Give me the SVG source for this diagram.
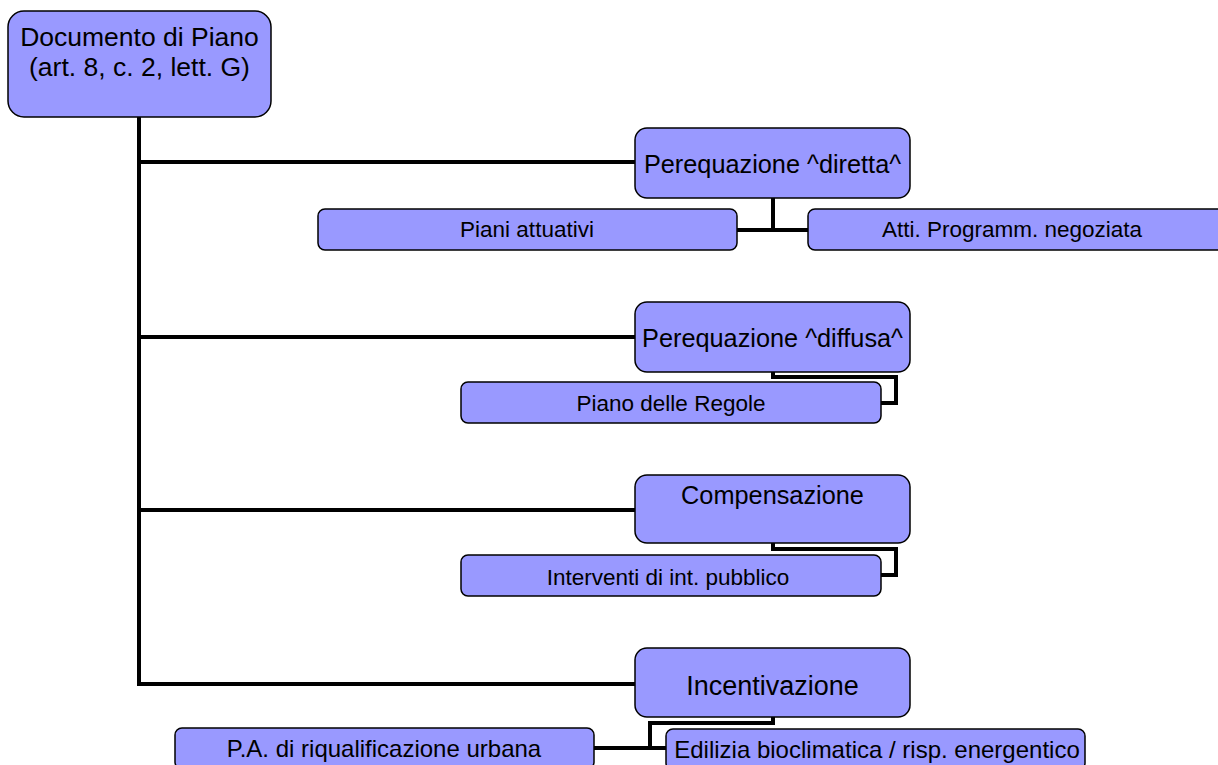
<svg xmlns="http://www.w3.org/2000/svg" width="1218" height="765" viewBox="0 0 1218 765">
<style>
.box{fill:#9999FF;stroke:#000;stroke-width:1.5}
.t{font-family:"Liberation Sans",Arial,sans-serif;fill:#000;text-anchor:middle}
.root{font-size:26.5px}
.l1{font-size:25.3px}
.l2{font-size:22.5px}
.l2b{font-size:24px}
.c{fill:none;stroke:#000;stroke-width:4;stroke-linejoin:miter}
</style>
<rect width="1218" height="765" fill="#fff"/>
<g id="connectors">
<polyline class="c" points="139,117 139,684 635,684"/>
<line class="c" x1="139" y1="162" x2="635" y2="162"/>
<line class="c" x1="139" y1="337" x2="635" y2="337"/>
<line class="c" x1="139" y1="510" x2="635" y2="510"/>
<polyline class="c" points="773,198 773,230"/>
<line class="c" x1="737" y1="230" x2="808" y2="230"/>
<polyline class="c" points="773,372 773,377 896,377 896,403 881,403"/>
<polyline class="c" points="773,543 773,549 896,549 896,575 881,575"/>
<polyline class="c" points="773,716 773,723 650,723 650,748"/>
<line class="c" x1="594" y1="748" x2="666" y2="748"/>
</g>
<g id="root">
<rect class="box" x="8" y="11" width="263" height="106" rx="16"/>
<text class="t root" x="139.5" y="46">Documento di Piano</text>
<text class="t root" x="139.5" y="76">(art. 8, c. 2, lett. G)</text>
</g>
<g id="pereq-diretta">
<rect class="box" x="635" y="128" width="275" height="70" rx="12"/>
<text class="t l1" x="772.5" y="173">Perequazione ^diretta^</text>
</g>
<g id="piani-attuativi">
<rect class="box" x="318" y="209" width="419" height="41" rx="7"/>
<text class="t l2" x="527" y="237">Piani attuativi</text>
</g>
<g id="atti-programm">
<rect class="box" x="808" y="209" width="420" height="41" rx="7"/>
<text class="t l2" x="1012" y="237">Atti. Programm. negoziata</text>
</g>
<g id="pereq-diffusa">
<rect class="box" x="635" y="302" width="275" height="70" rx="12"/>
<text class="t l1" x="772.5" y="347">Perequazione ^diffusa^</text>
</g>
<g id="piano-regole">
<rect class="box" x="461" y="382" width="420" height="41" rx="7"/>
<text class="t l2" x="671" y="411">Piano delle Regole</text>
</g>
<g id="compensazione">
<rect class="box" x="635" y="475" width="275" height="68" rx="12"/>
<text class="t l1" x="772.5" y="504">Compensazione</text>
</g>
<g id="interventi">
<rect class="box" x="461" y="555" width="420" height="41" rx="7"/>
<text class="t l2" x="668" y="585">Interventi di int. pubblico</text>
</g>
<g id="incentivazione">
<rect class="box" x="635" y="648" width="275" height="69" rx="12"/>
<text class="t l1" x="772.5" y="695" style="font-size:27px">Incentivazione</text>
</g>
<g id="pa-riqualificazione">
<rect class="box" x="175" y="728" width="419" height="41" rx="7"/>
<text class="t l2b" x="384" y="757">P.A. di riqualificazione urbana</text>
</g>
<g id="edilizia">
<rect class="box" x="666" y="729" width="419" height="41" rx="7"/>
<text class="t l2b" x="877" y="758">Edilizia bioclimatica / risp. energentico</text>
</g>
</svg>
